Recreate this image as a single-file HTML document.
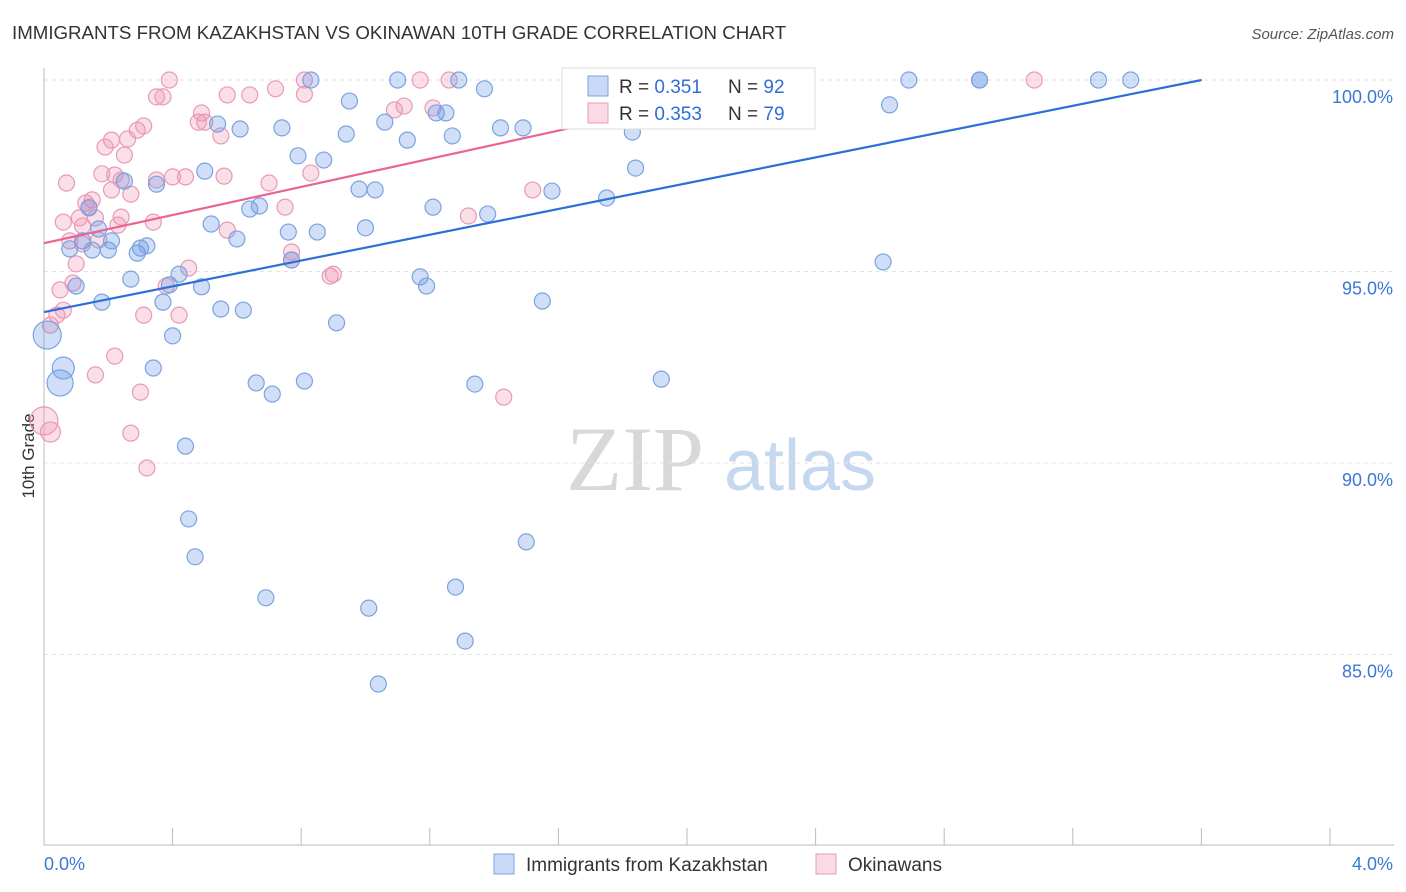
<!DOCTYPE html>
<html><head><meta charset="utf-8"><style>
body{margin:0;background:#fff;font-family:"Liberation Sans",sans-serif;}
svg{display:block}
</style></head><body>
<svg id="c" width="1406" height="892">
<text x="12" y="39" font-size="18.7" fill="#333">IMMIGRANTS FROM KAZAKHSTAN VS OKINAWAN 10TH GRADE CORRELATION CHART</text>
<text x="1394" y="39" font-size="15" fill="#555" font-style="italic" text-anchor="end">Source: ZipAtlas.com</text>
<text x="34" y="456" font-size="17" fill="#333" text-anchor="middle" transform="rotate(-90 34 456)">10th Grade</text>
<g><text x="635" y="490" font-size="92" fill="#d8d8d8" font-family="Liberation Serif,serif" text-anchor="middle">ZIP</text><text x="800" y="490" font-size="72" fill="#c5d8f0" text-anchor="middle">atlas</text></g>
<g id="grid"></g><g id="axes"></g><g id="pts"></g><g id="trend"></g>
<g>
<rect x="562" y="68" width="253" height="61" fill="#fff" stroke="#ddd"/>
<rect x="588" y="76" width="20" height="20" fill="rgba(100,150,230,0.35)" stroke="#7aa3e0"/>
<rect x="588" y="103" width="20" height="20" fill="rgba(240,150,180,0.35)" stroke="#e89ab5"/>
<text x="619" y="93" font-size="19" fill="#333">R = <tspan fill="#2e6fd6">0.351</tspan><tspan x="728">N = </tspan><tspan fill="#2e6fd6">92</tspan></text>
<text x="619" y="120" font-size="19" fill="#333">R = <tspan fill="#2e6fd6">0.353</tspan><tspan x="728">N = </tspan><tspan fill="#2e6fd6">79</tspan></text>
</g>
<g>
<rect x="494" y="854" width="20" height="20" fill="rgba(100,150,230,0.35)" stroke="#7aa3e0"/>
<text x="526" y="871" font-size="19" fill="#333">Immigrants from Kazakhstan</text>
<rect x="816" y="854" width="20" height="20" fill="rgba(240,150,180,0.35)" stroke="#e89ab5"/>
<text x="848" y="871" font-size="19" fill="#333">Okinawans</text>
</g>
</svg>
<script>
const blueX=[0.01,0.05,0.06,0.08,0.10,0.12,0.14,0.15,0.17,0.18,0.20,0.21,0.25,0.27,0.29,0.30,0.32,0.34,0.35,0.37,0.39,0.40,0.42,0.44,0.45,0.47,0.49,0.50,0.52,0.54,0.55,0.60,0.61,0.62,0.64,0.66,0.67,0.69,0.71,0.74,0.76,0.77,0.79,0.81,0.83,0.85,0.87,0.91,0.94,0.95,0.98,1.00,1.01,1.03,1.04,1.06,1.10,1.13,1.17,1.19,1.21,1.22,1.25,1.27,1.28,1.29,1.31,1.34,1.37,1.38,1.42,1.49,1.50,1.55,1.58,1.75,1.83,1.84,1.92,2.16,2.61,2.63,2.69,2.91,2.91,3.28,3.38];
const blueY=[93.34,92.09,92.48,95.59,94.62,95.80,96.66,95.56,96.11,94.20,95.56,95.80,97.36,94.80,95.48,95.61,95.67,92.48,97.28,94.20,94.65,93.32,94.93,90.44,88.54,87.55,94.60,97.62,96.24,98.85,94.02,95.85,98.72,93.99,96.63,92.09,96.71,86.48,91.80,98.75,96.03,95.30,98.02,92.14,100,96.03,97.91,93.66,98.59,99.45,97.15,96.14,86.21,97.13,84.23,98.90,100,98.43,94.86,94.62,96.68,99.14,99.14,98.54,86.76,100,85.35,92.06,99.77,96.50,98.75,98.75,87.94,94.23,97.10,96.92,98.64,97.70,92.19,100,95.25,99.35,100,100,100,100,100];
const pinkX=[0.00,0.02,0.02,0.04,0.05,0.06,0.06,0.07,0.08,0.09,0.10,0.11,0.12,0.12,0.13,0.14,0.15,0.16,0.16,0.17,0.18,0.19,0.21,0.21,0.22,0.22,0.23,0.24,0.24,0.25,0.26,0.27,0.27,0.29,0.30,0.31,0.31,0.32,0.34,0.35,0.35,0.37,0.38,0.39,0.40,0.42,0.44,0.45,0.48,0.49,0.50,0.55,0.56,0.57,0.57,0.64,0.70,0.72,0.75,0.77,0.77,0.81,0.81,0.83,0.89,0.90,1.09,1.12,1.17,1.21,1.26,1.32,1.43,1.52,3.08];
const pinkY=[91.10,90.81,93.60,93.86,94.52,96.29,93.99,97.31,95.80,94.70,95.20,96.40,95.72,96.19,96.79,96.68,96.87,96.40,92.30,95.82,97.55,98.25,97.13,98.43,92.79,97.52,96.21,97.39,96.42,98.04,98.46,90.78,97.02,98.69,91.85,98.80,93.86,89.87,96.29,97.39,99.56,99.56,94.62,100,97.47,93.86,97.47,95.09,98.90,99.14,98.90,98.54,97.49,96.08,99.61,99.61,97.31,99.77,96.68,95.51,95.30,99.63,100,97.57,94.88,94.93,99.22,99.32,100,99.27,100,96.45,91.72,97.13,100];
const blueBig={0:14,1:13,2:11};
const pinkBig={0:14,1:10};
const blueTrend=[93.94,1.683]; // intercept, slope per %
const pinkTrend=[95.74,1.836];
const yTicks=[85,90,95,100];
const xTicks=[0,0.4,0.8,1.2,1.6,2.0,2.4,2.8,3.2,3.6,4.0];
const X=v=>44+v*321.5, Y=v=>80+(100-v)*38.3;
const NS="http://www.w3.org/2000/svg";
function mk(t,a,p){const e=document.createElementNS(NS,t);for(const k in a)e.setAttribute(k,a[k]);p.appendChild(e);return e;}
const grid=document.getElementById('grid'),axes=document.getElementById('axes'),pts=document.getElementById('pts'),tr=document.getElementById('trend');
yTicks.forEach(v=>{
 const l=mk('line',{x1:44,x2:1394,y1:Y(v),y2:Y(v),stroke:'#e3e3e3','stroke-dasharray':'4 4'},grid);
 
 
 const t=mk('text',{x:1393,y:Y(v)+23,'font-size':18,fill:'#3a78d8','text-anchor':'end'},axes);
 t.textContent=v.toFixed(1)+'%';
 
 
});
const ax=mk('line',{x1:44,x2:1394,y1:845,y2:845,stroke:'#bbb'},axes);


const ay=mk('line',{x1:44,x2:44,y1:68,y2:845,stroke:'#bbb'},axes);


xTicks.forEach(v=>{
 const t=mk('line',{x1:X(v),x2:X(v),y1:828,y2:845,stroke:'#bbb'},axes);
 
 
});
[[0,'0.0%','start',44],[4,'4.0%','end',1393]].forEach(d=>{
 const t=mk('text',{x:d[3],y:870,'font-size':18,fill:'#3a78d8','text-anchor':d[2]},axes);
 t.textContent=d[1];
 
 
});
function series(xs,ys,big,fill,stroke,name){
 xs.forEach((x,i)=>{
  const c=mk('circle',{cx:X(x),cy:Y(ys[i]),r:big[i]||8,fill:fill,stroke:stroke,'stroke-width':1.2},pts);
  
  
 });
}
series(pinkX,pinkY,pinkBig,'rgba(240,150,180,0.3)','#e89ab5','point-okinawans');
series(blueX,blueY,blueBig,'rgba(100,150,230,0.3)','#7aa3e0','point-kazakhstan');
function trend(p,col,name){
 const xe=(100-p[0])/p[1];
 const l=mk('line',{x1:X(0),y1:Y(p[0]),x2:X(xe),y2:Y(100),stroke:col,'stroke-width':2.2},tr);
 
 
}
trend(blueTrend,'#2e6fd6','trend-line-kazakhstan');
trend(pinkTrend,'#e8668f','trend-line-okinawans');
</script>
</body></html>
